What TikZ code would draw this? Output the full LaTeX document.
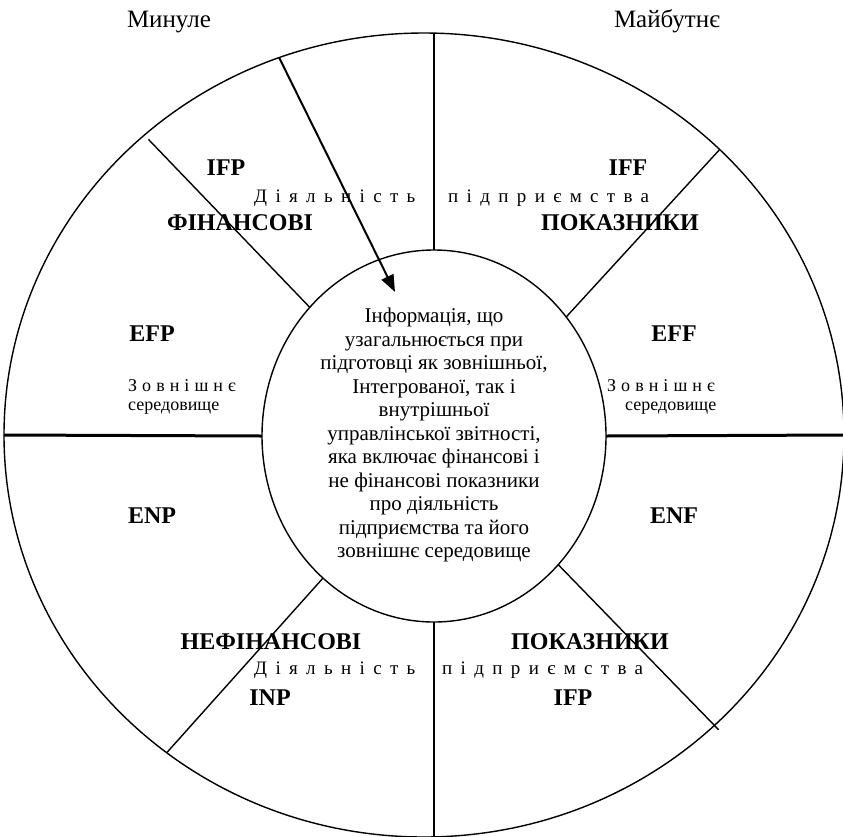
\documentclass[tikz,border=0pt]{standalone}
\usepackage{fontspec}
\setmainfont{Liberation Serif}
\usetikzlibrary{shapes.geometric,arrows.meta}
\begin{document}
\begin{tikzpicture}[x=1pt,y=-1pt,
  ring/.style={ellipse, draw, line width=1.4pt, inner sep=0pt, outer sep=0pt},
  divider/.style={line width=1.4pt},
  axisline/.style={line width=1.8pt},
  midline/.style={line width=3pt},
  era/.style={font=\fontsize{25}{28}\selectfont, inner sep=0pt, anchor=base},
  lab/.style={font=\fontsize{24}{28}\selectfont\bfseries, inner sep=0pt, anchor=base},
  spaced/.style={font=\fontsize{19}{22}\selectfont\addfontfeatures{LetterSpace=44}, inner sep=0pt, anchor=base west},
  envsp/.style={font=\fontsize{18}{21}\selectfont\addfontfeatures{LetterSpace=28}, inner sep=0pt, anchor=base west},
  env/.style={font=\fontsize{18}{21}\selectfont, inner sep=0pt, anchor=base west},
  info/.style={font=\fontsize{21}{23.5}\selectfont, align=center, inner sep=0pt}]
\useasboundingbox (0,0) rectangle (843,836);
\clip (0,0) rectangle (843,836);
\fill[white] (0,0) rectangle (843,836);
% circles
\node[ring, minimum width=840pt, minimum height=804pt] (outer) at (424,435) {};
\node[ring, minimum width=344pt, minimum height=372pt] (inner) at (434,436) {};
% dividing lines
\draw[axisline] (inner.north |- outer.north) -- (inner.north);
\draw[axisline] (inner.south) -- (inner.south |- outer.south);
\draw[midline] (outer.west) -- (inner.west);
\draw[midline] (inner.east) -- (outer.east);
\draw[divider, shorten >=6pt] (inner.134) -- (outer.133);
\draw[divider] (inner.42) -- (outer.44);
\draw[divider] (inner.232) -- (outer.231);
\draw[divider, shorten >=-6pt] (inner.314) -- (outer.315);
% arrow
\coordinate (tip) at (395,292);
\draw[line width=2pt, -{Triangle[length=17pt,width=13pt]}] (outer.111) -- (tip);
% centre text
\node[info] (infotext) at (434,435) {Інформація, що\\узагальнюється при\\підготовці як зовнішньої,\\Інтегрованої, так і\\внутрішньої\\управлінської звітності,\\яка включає фінансові і\\не фінансові показники\\про діяльність\\підприємства та його\\зовнішнє середовище};
% headings
\node[era] (past) at (169,27) {Минуле};
\node[era] (future) at (667,27) {Майбутнє};
% upper labels
\node[lab] (ifpu) at (226,175) {IFP};
\node[lab] (iff) at (628,175) {IFF};
\node[spaced] (actu) at (254,202) {Діяльність};
\node[spaced] (entu) at (448,202) {підприємства};
\node[lab] (fin) at (240,230) {ФІНАНСОВІ};
\node[lab] (pokazu) at (620,230) {ПОКАЗНИКИ};
% side labels
\node[lab] (efp) at (152,341) {EFP};
\node[lab] (eff) at (674,341) {EFF};
\node[envsp] (envl1) at (128,391) {Зовнішнє};
\node[env] (envl2) at (128,410) {середовище};
\node[envsp] (envr1) at (607,391) {Зовнішнє};
\node[env] (envr2) at (625,410) {середовище};
\node[lab] (enp) at (152,523) {ENP};
\node[lab] (enf) at (674,523) {ENF};
% lower labels
\node[lab] (nefin) at (271,649) {НЕФІНАНСОВІ};
\node[lab] (pokazl) at (590,649) {ПОКАЗНИКИ};
\node[spaced] (actl) at (254,674) {Діяльність};
\node[spaced] (entl) at (442,674) {підприємства};
\node[lab] (inp) at (270,705) {INP};
\node[lab] (ifpl) at (573,705) {IFP};
\end{tikzpicture}
\end{document}
